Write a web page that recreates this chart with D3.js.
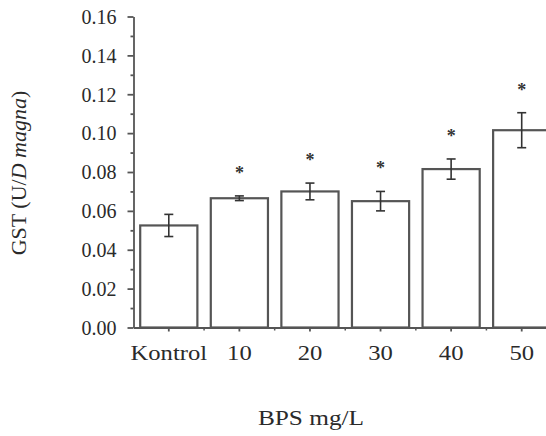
<!DOCTYPE html>
<html>
<head>
<meta charset="utf-8">
<script src="https://cdn.jsdelivr.net/npm/d3@7"></script>
<style>
  body { margin: 0; background: #fff; }
  svg { display: block; }
</style>
</head>
<body>
<svg id="chart" width="546" height="436"></svg>
<script>
// data
var categories = ['Kontrol', '10', '20', '30', '40', '50'];
var gstMean = [0.0525, 0.0665, 0.0700, 0.0650, 0.0815, 0.1015];
var gstErr = [0.0057, 0.0012, 0.0043, 0.0050, 0.0052, 0.0090];
var significant = [false, true, true, true, true, true];
var yTicks = [0, 0.02, 0.04, 0.06, 0.08, 0.10, 0.12, 0.14, 0.16];
var yMinorTicks = [0.01, 0.03, 0.05, 0.07, 0.09, 0.11, 0.13, 0.15];

var svg = d3.select('#chart');
var family = '"Liberation Serif", "Times New Roman", "DejaVu Serif", serif';
var textColor = '#2a2a2a';
var lineColor = '#555';
var axisX0 = 133.5;
var axisY0 = 327.5;

// widen text a bit, the original glyphs are stretched horizontally
function stretch(sel, k){
    sel.each(function(){
        var len = this.getComputedTextLength();
        d3.select(this)
            .attr('textLength', len*k)
            .attr('lengthAdjust', 'spacingAndGlyphs');
    });
}

var y = d3.scaleLinear()
    .domain([0, 0.16])
    .range([axisY0, 16.5]);

var x = d3.scaleBand()
    .domain(categories)
    .range([axisX0, 557])
    .paddingInner(0.19)
    .paddingOuter(0.095);

var bars = categories.map(function(c, i){
    return {cat: c, v: gstMean[i], e: gstErr[i], sig: significant[i]};
});

// bars
svg.append('g')
    .selectAll('rect')
    .data(bars)
    .enter()
    .append('rect')
    .attr('x', function(d){ return x(d.cat); })
    .attr('y', function(d){ return y(d.v); })
    .attr('width', x.bandwidth())
    .attr('height', function(d){ return y(0) - y(d.v); })
    .attr('fill', '#fff')
    .attr('stroke', lineColor)
    .attr('stroke-width', 2.2);

// error bars
var errG = svg.append('g')
    .attr('stroke', '#333')
    .attr('stroke-width', 1.6);
bars.forEach(function(d){
    var cx = x(d.cat) + x.bandwidth()/2;
    errG.append('line')
        .attr('x1', cx).attr('x2', cx)
        .attr('y1', y(d.v + d.e)).attr('y2', y(d.v - d.e));
    [d.v + d.e, d.v - d.e].forEach(function(v){
        errG.append('line')
            .attr('x1', cx - 4.5).attr('x2', cx + 4.5)
            .attr('y1', y(v)).attr('y2', y(v));
    });
});

// asterisks
svg.append('g')
    .selectAll('text')
    .data(bars.filter(function(d){ return d.sig; }))
    .enter()
    .append('text')
    .attr('x', function(d){ return x(d.cat) + x.bandwidth()/2; })
    .attr('y', function(d){ return y(d.v + d.e) - 17; })
    .attr('text-anchor', 'middle')
    .style('font-family', family)
    .style('font-size', '18px')
    .style('font-weight', 'bold')
    .style('fill', '#333')
    .text('*');

// y axis
var yAxis = d3.axisLeft(y)
    .tickValues(yTicks)
    .tickFormat(d3.format('.2f'))
    .tickSize(6)
    .tickSizeOuter(0)
    .tickPadding(11);
var yG = svg.append('g')
    .attr('transform', 'translate(' + axisX0 + ',0)')
    .call(yAxis);
yG.selectAll('text')
    .attr('dy', '0.34em')
    .style('font-family', family)
    .style('font-size', '20px')
    .style('fill', textColor);

svg.append('g')
    .attr('transform', 'translate(' + axisX0 + ',0)')
    .call(d3.axisLeft(y).tickValues(yMinorTicks).tickSize(3).tickFormat(''))
    .select('.domain').remove();

// x axis
var xAxis = d3.axisBottom(x)
    .tickSize(4)
    .tickSizeOuter(0)
    .tickPadding(13);
var xG = svg.append('g')
    .attr('transform', 'translate(0,' + axisY0 + ')')
    .call(xAxis);
xG.selectAll('text')
    .style('font-family', family)
    .style('font-size', '22px')
    .style('fill', textColor)
    .call(stretch, 1.12);

// minor x ticks between bars
var xMinor = categories.slice(0, -1).map(function(c){
    return x(c) + x.bandwidth() + x.step()*x.paddingInner()/2;
});
svg.append('g')
    .selectAll('line')
    .data(xMinor)
    .enter()
    .append('line')
    .attr('x1', function(d){ return d; })
    .attr('x2', function(d){ return d; })
    .attr('y1', axisY0)
    .attr('y2', axisY0 + 3)
    .attr('stroke', lineColor)
    .attr('stroke-width', 1.5);

svg.selectAll('.domain, .tick line')
    .attr('stroke', lineColor)
    .attr('stroke-width', 1.8);

// axis titles
svg.append('text')
    .attr('x', 311)
    .attr('y', 425)
    .attr('text-anchor', 'middle')
    .style('font-family', family)
    .style('font-size', '22px')
    .style('fill', textColor)
    .text('BPS mg/L')
    .call(stretch, 1.15);

var yTitle = svg.append('text')
    .attr('transform', 'translate(26,173) rotate(-90)')
    .attr('text-anchor', 'middle')
    .style('font-family', family)
    .style('font-size', '20px')
    .style('fill', textColor);
yTitle.append('tspan').text('GST (U/');
yTitle.append('tspan').style('font-style', 'italic').text('D magna');
yTitle.append('tspan').text(')');
yTitle.call(stretch, 1.1);
</script>
</body>
</html>
